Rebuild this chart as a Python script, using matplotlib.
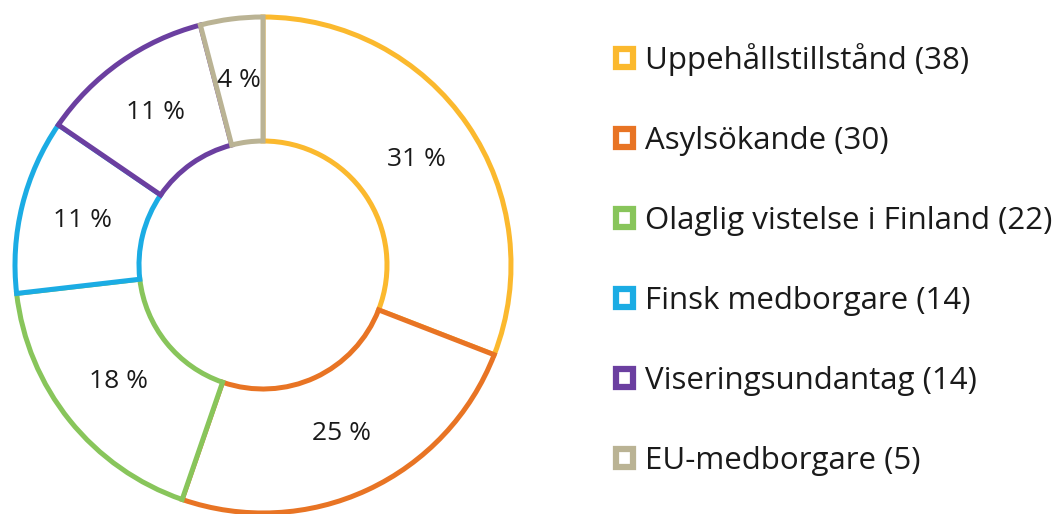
import matplotlib.pyplot as plt
from matplotlib.patches import Patch

plt.rcParams['font.family'] = ['Open Sans', 'DejaVu Sans']

# -------------------------
# Data
# -------------------------
categories = ['Uppehållstillstånd', 'Asylsökande', 'Olaglig vistelse i Finland',
              'Finsk medborgare', 'Viseringsundantag', 'EU-medborgare']
counts = [38, 30, 22, 14, 14, 5]
pct_labels = ['31 %', '25 %', '18 %', '11 %', '11 %', '4 %']
colors = ['#FBB92E', '#E87424', '#88C55B', '#1BACE4', '#6B3FA0', '#BAB394']

# -------------------------
# Plot
# -------------------------
fig = plt.figure(figsize=(10.64, 5.14), dpi=100)
W, H = 1064, 514
cx, cy, r = 263, 265, 248
ax = fig.add_axes([(cx - r) / W, (H - cy - r) / H, 2 * r / W, 2 * r / H])

wedges, texts = ax.pie(
    counts,
    startangle=90,
    counterclock=False,
    radius=1,
    labels=pct_labels,
    labeldistance=0.75,
    wedgeprops=dict(width=0.5, facecolor='white', linewidth=3.6),
    textprops=dict(fontsize=19, color='#1a1a1a', ha='center', va='center'),
)
for w, c in zip(wedges, colors):
    w.set_edgecolor(c)

ax.set_xlim(-1, 1)
ax.set_ylim(-1, 1)
ax.set_aspect('equal')
ax.axis('off')

handles = [Patch(facecolor='white', edgecolor=c, linewidth=4.5) for c in colors]
labels = [f'{n} ({v})' for n, v in zip(categories, counts)]
fig.legend(
    handles, labels,
    loc='upper left',
    bbox_to_anchor=(588 / W, 1 - 15 / H),
    frameon=False,
    fontsize=22.5,
    handlelength=0.55,
    handleheight=0.55,
    handletextpad=0.38,
    labelspacing=1.6,
    labelcolor='#1a1a1a',
)

fig.savefig('out.png', dpi=100)
